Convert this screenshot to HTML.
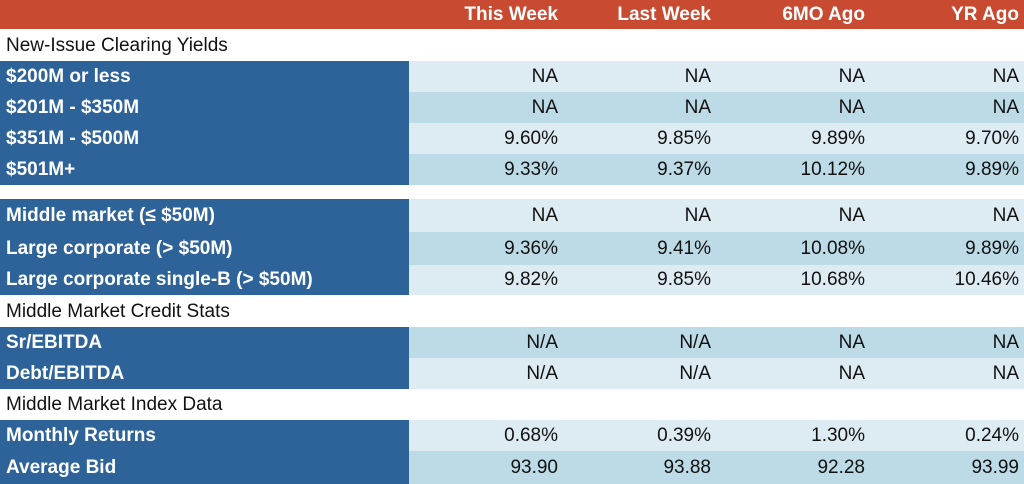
<!DOCTYPE html>
<html><head><meta charset="utf-8"><style>
body{margin:0;width:1024px;height:484px;overflow:hidden;background:#fff;font-family:"Liberation Sans",sans-serif;position:relative}
.r{position:absolute;left:0;width:1024px}
.lab{position:absolute;left:0;width:409px;height:100%;background:#2e6399;color:#fff;font-weight:bold;font-size:19px;box-sizing:border-box;padding-left:6px;display:flex;align-items:center}
.c{position:absolute;top:0;height:100%;font-size:19px;color:#111;display:flex;align-items:center;justify-content:flex-end}
.sec{font-size:19px;color:#111;padding-left:6px;display:flex;align-items:center}
.hd{background:#c84b31;color:#fff;font-weight:bold;font-size:19px}
</style></head><body>
<div class="r hd" style="top:0;height:29px">
<div class="c" style="left:410px;width:148px;color:#fff">This Week</div>
<div class="c" style="left:560px;width:151px;color:#fff">Last Week</div>
<div class="c" style="left:713px;width:152px;color:#fff">6MO Ago</div>
<div class="c" style="left:867px;width:152px;color:#fff">YR Ago</div>
</div>
<div id="t"></div>
<script>
const rows=[
["s","New-Issue Clearing Yields",30,31],
["d","$200M or less",61,31,["NA","NA","NA","NA"],0],
["d","$201M - $350M",92,31,["NA","NA","NA","NA"],1],
["d","$351M - $500M",123,31,["9.60%","9.85%","9.89%","9.70%"],0],
["d","$501M+",154,31,["9.33%","9.37%","10.12%","9.89%"],1],
["d","Middle market (≤ $50M)",199,33,["NA","NA","NA","NA"],0],
["d","Large corporate (> $50M)",232,33,["9.36%","9.41%","10.08%","9.89%"],1],
["d","Large corporate single-B (> $50M)",265,30,["9.82%","9.85%","10.68%","10.46%"],0],
["s","Middle Market Credit Stats",296,31],
["d","Sr/EBITDA",327,31,["N/A","N/A","NA","NA"],1],
["d","Debt/EBITDA",358,31,["N/A","N/A","NA","NA"],0],
["s","Middle Market Index Data",390,30],
["d","Monthly Returns",420,31,["0.68%","0.39%","1.30%","0.24%"],0],
["d","Average Bid",451,33,["93.90","93.88","92.28","93.99"],1]];
const cols=[[410,148],[560,151],[713,152],[867,152]];
const t=document.getElementById('t');
rows.forEach(r=>{
const d=document.createElement('div');
d.className='r'+(r[0]=='s'?' sec':'');


d.style.top=r[2]+'px';d.style.height=r[3]+'px';
if(r[0]=='s'){d.textContent=r[1];}
else{
d.style.background=r[5]?'#bddbe6':'#ddebf2';
const l=document.createElement('div');l.className='lab';l.textContent=r[1];


d.appendChild(l);
r[4].forEach((v,i)=>{const c=document.createElement('div');c.className='c';
c.style.left=cols[i][0]+'px';c.style.width=cols[i][1]+'px';c.textContent=v;


d.appendChild(c);});
}
t.appendChild(d);});
</script>
</body></html>
